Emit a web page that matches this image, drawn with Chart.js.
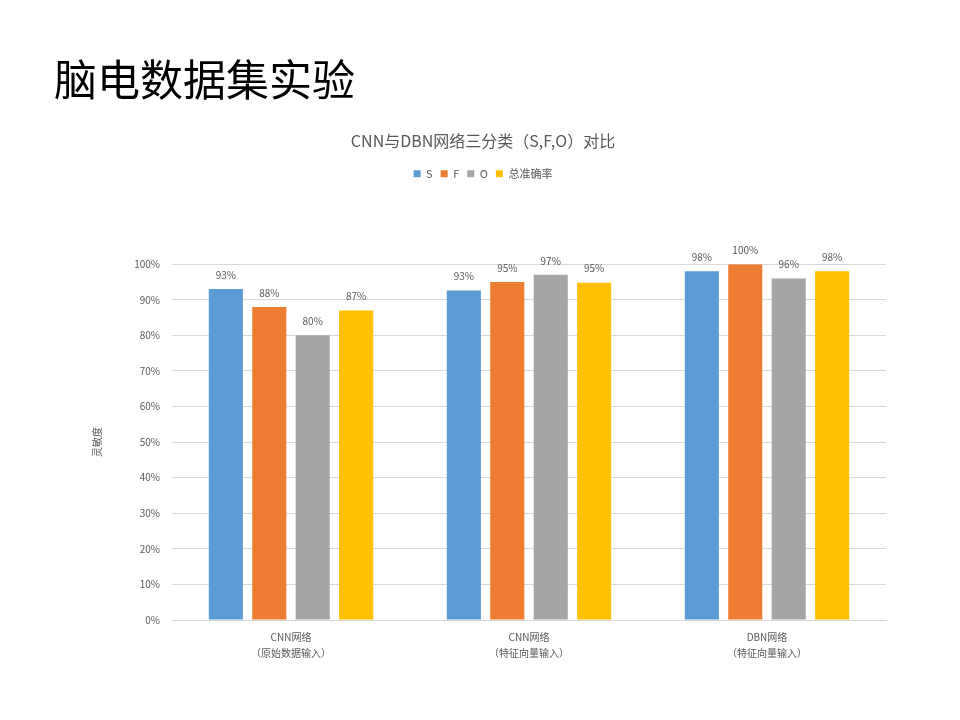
<!DOCTYPE html>
<html>
<head>
<meta charset="utf-8">
<script src="https://cdn.jsdelivr.net/npm/chart.js@4/dist/chart.umd.min.js"></script>
<style>
  html, body { margin: 0; padding: 0; background: #fff; }
  #page { position: relative; width: 960px; height: 720px; overflow: hidden; }
  #heading {
    position: absolute; left: 54px; top: 51px;
    font-family: "Noto Sans CJK SC", sans-serif; font-size: 43px; color: #000;
    line-height: 52px;
  }
  #chartBox { position: absolute; left: 0; top: 0; width: 960px; height: 720px; }
</style>
</head>
<body>
<div id="page">
  <div id="chartBox"><canvas id="chart"></canvas></div>
  <div id="heading">脑电数据集实验</div>
</div>
<script>
// 数据
const categories = [
    ['CNN网络', '（原始数据输入）'],
    ['CNN网络', '（特征向量输入）'],
    ['DBN网络', '（特征向量输入）']
];
const seriesNames = ['S', 'F', 'O', '总准确率'];
const sValues = [93, 92.6, 98];
const fValues = [88, 95, 100];
const oValues = [80, 97, 96];
const totalValues = [87, 94.8, 98];
const yTicks = [0, 10, 20, 30, 40, 50, 60, 70, 80, 90, 100];

const colors = ['#5B9BD5', '#ED7D31', '#A5A5A5', '#FFC000'];
const textColor = '#595959';
const fontFamily = '"Noto Sans CJK SC", "Noto Sans", sans-serif';

// étiquettes au-dessus des barres
const barLabels = {
    id: 'barLabels',
    afterDatasetsDraw(chart) {
        const ctx = chart.ctx;
        ctx.save();
        ctx.font = '10px ' + fontFamily;
        ctx.fillStyle = textColor;
        ctx.textAlign = 'center';
        ctx.textBaseline = 'bottom';
        chart.data.datasets.forEach((ds, i) => {
            chart.getDatasetMeta(i).data.forEach((bar, j) => {
                ctx.fillText(Math.round(ds.data[j]) + '%', bar.x, bar.y - 9);
            });
        });
        ctx.restore();
    }
};

// espace sous la légende
const legendGap = {
    id: 'legendGap',
    beforeInit(chart) {
        const fit = chart.legend.fit;
        chart.legend.fit = function() {
            fit.bind(chart.legend)();
            this.height += 75;
        };
    }
};

const allSeries = [sValues, fValues, oValues, totalValues];

new Chart(document.getElementById('chart'), {
    type: 'bar',
    data: {
        labels: categories,
        datasets: allSeries.map((vals, i) => ({
            label: seriesNames[i],
            data: vals,
            backgroundColor: colors[i],
            categoryPercentage: 0.73,
            barPercentage: 0.785
        }))
    },
    options: {
        responsive: true,
        maintainAspectRatio: false,
        animation: false,
        layout: { padding: { top: 131, left: 80, right: 74, bottom: 0 } },
        plugins: {
            title: {
                display: true,
                text: 'CNN与DBN网络三分类（S,F,O）对比',
                color: textColor,
                font: { family: fontFamily, size: 16, weight: 'normal' },
                padding: { top: 0, bottom: 10 }
            },
            legend: {
                labels: {
                    boxWidth: 7,
                    boxHeight: 7,
                    padding: 8,
                    color: textColor,
                    font: { family: fontFamily, size: 11 }
                }
            },
            tooltip: { enabled: false }
        },
        scales: {
            x: {
                grid: { display: false },
                border: { color: '#d9d9d9' },
                ticks: {
                    color: textColor,
                    padding: 1,
                    maxRotation: 0,
                    font: { family: fontFamily, size: 10, lineHeight: 1.6 }
                },
                afterFit(scale) { scale.height = 100; }
            },
            y: {
                min: 0,
                max: 100,
                afterBuildTicks(scale) { scale.ticks = yTicks.map(v => ({ value: v })); },
                grid: { color: '#d9d9d9', drawTicks: false },
                border: { display: false },
                ticks: {
                    color: textColor,
                    padding: 12,
                    font: { family: fontFamily, size: 10 },
                    callback: v => v + '%'
                },
                title: {
                    display: true,
                    text: '灵敏度',
                    color: textColor,
                    font: { family: fontFamily, size: 10 },
                    padding: { top: 11, bottom: 4 }
                },
                afterFit(scale) { scale.width = 92; }
            }
        }
    },
    plugins: [barLabels, legendGap]
});
</script>
</body>
</html>
